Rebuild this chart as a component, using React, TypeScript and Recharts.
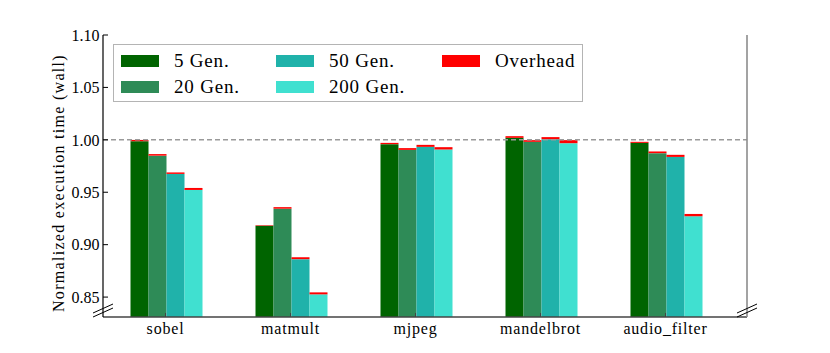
import { BarChart, Bar, XAxis, YAxis, ReferenceLine, Legend } from "recharts";

const categories = ["sobel", "matmult", "mjpeg", "mandelbrot", "audio_filter"];

// normalized wall time per generation count (without overhead)
const gen5 = [0.9987, 0.918, 0.9959, 1.0019, 0.9971];
const gen20 = [0.9849, 0.9343, 0.9904, 0.9981, 0.9873];
const gen50 = [0.9675, 0.8862, 0.9933, 1.0006, 0.9837];
const gen200 = [0.9522, 0.8526, 0.9908, 0.9968, 0.9271];

// overhead part stacked on top of each bar
const ovh5 = [0.0012, 0.0005, 0.0012, 0.0016, 0.001];
const ovh20 = [0.0015, 0.0015, 0.0017, 0.0016, 0.0016];
const ovh50 = [0.0014, 0.0018, 0.0019, 0.002, 0.002];
const ovh200 = [0.0019, 0.0019, 0.0022, 0.0029, 0.0022];

const seriesNames = ["5 Gen.", "20 Gen.", "50 Gen.", "200 Gen."];
const seriesKeys = ["g5", "g20", "g50", "g200"];
const seriesColors = ["#006400", "#2e8b57", "#20b2aa", "#40e0d0"];
const overheadName = "Overhead";
const overheadColor = "#ff0000";

const yTicks = [0.85, 0.9, 0.95, 1.0, 1.05, 1.1];
const yDomain = [0.831, 1.1];

const data = categories.map((name, i) => ({
  name,
  g5: gen5[i],
  o5: ovh5[i],
  g20: gen20[i],
  o20: ovh20[i],
  g50: gen50[i],
  o50: ovh50[i],
  g200: gen200[i],
  o200: ovh200[i],
}));

const FONT = "'Liberation Serif', 'DejaVu Serif', serif";

function LegendBox() {
  // column-major like matplotlib's ncol=3 legend
  const items = [
    { label: seriesNames[0], color: seriesColors[0] },
    { label: seriesNames[1], color: seriesColors[1] },
    { label: seriesNames[2], color: seriesColors[2] },
    { label: seriesNames[3], color: seriesColors[3] },
    { label: overheadName, color: overheadColor },
  ];
  const colX = [7, 162, 328];
  const rowY = [10, 36];
  return (
    <div
      style={{
        width: 470,
        height: 58,
        boxSizing: "border-box",
        border: "1px solid #b4b4b4",
        background: "#fff",
        position: "relative",
        fontFamily: FONT,
        fontSize: 19,
        letterSpacing: 0.8,
        color: "#000",
      }}
    >
      {items.map((it, i) => (
        <div
          key={it.label}
          style={{
            position: "absolute",
            left: colX[Math.floor(i / 2)],
            top: rowY[i % 2] - 5,
            height: 22,
            display: "flex",
            alignItems: "center",
            whiteSpace: "nowrap",
          }}
        >
          <span style={{ display: "inline-block", width: 38, height: 12, background: it.color, marginRight: 15 }} />
          <span>{it.label}</span>
        </div>
      ))}
    </div>
  );
}

export default function App() {
  return (
    <div style={{ position: "absolute", left: 0, top: 0, width: 830, height: 353, background: "#fff" }}>
      <BarChart
        width={830}
        height={353}
        data={data}
        margin={{ top: 35, right: 33, left: 53, bottom: 6 }}
        barCategoryGap={27.5}
        barGap={0}
        style={{ fontFamily: FONT }}
      >
        <XAxis
          dataKey="name"
          height={30}
          padding={{ left: 0, right: 19 }}
          axisLine={{ stroke: "#444", strokeWidth: 1.5 }}
          tickLine={{ stroke: "#444" }}
          tickSize={-4}
          tickMargin={10}
          tick={{ fill: "#000", fontSize: 16, letterSpacing: 0.8, fontFamily: FONT }}
          interval={0}
        />
        <XAxis
          xAxisId="top"
          dataKey="name"
          orientation="top"
          height={0}
          padding={{ left: 0, right: 19 }}
          axisLine={{ stroke: "#000", strokeWidth: 1.2 }}
          tickLine={{ stroke: "#000" }}
          tickSize={-4}
          tick={false}
        />
        <YAxis
          width={50}
          type="number"
          domain={yDomain}
          ticks={yTicks}
          allowDataOverflow
          axisLine={{ stroke: "#000", strokeWidth: 1.2 }}
          tickLine={{ stroke: "#000" }}
          tickSize={-5}
          tickMargin={8.5}
          tick={{ fill: "#000", fontSize: 16, fontFamily: FONT }}
          tickFormatter={(v: number) => v.toFixed(2)}
          label={(props: any) => {
            const vb = props.viewBox || { x: 53, y: 35, width: 50, height: 282 };
            const cx = 63.5;
            const cy = vb.y + vb.height / 2 + 7;
            return (
              <text
                x={cx}
                y={cy}
                transform={`rotate(-90 ${cx} ${cy})`}
                textAnchor="middle"
                fontSize={16}
                letterSpacing={1.3}
                fill="#000"
                fontFamily={FONT}
              >
                Normalized execution time (wall)
              </text>
            );
          }}
        />
        <YAxis
          yAxisId="right"
          orientation="right"
          width={50}
          type="number"
          domain={yDomain}
          ticks={yTicks}
          allowDataOverflow
          axisLine={{ stroke: "#8c8c8c", strokeWidth: 1.6 }}
          tickLine={{ stroke: "#8c8c8c" }}
          tickSize={-5}
          tick={false}
        />
        <ReferenceLine y={1.0} stroke="#9a9a9a" strokeWidth={1.5} strokeDasharray="5 3" />
        {seriesKeys.map((k, i) => [
          <Bar key={k} dataKey={k} stackId={k} fill={seriesColors[i]} name={seriesNames[i]} isAnimationActive={false} />,
          <Bar
            key={"o" + k}
            dataKey={"o" + k.slice(1)}
            stackId={k}
            fill={overheadColor}
            name={overheadName}
            isAnimationActive={false}
          />,
        ])}
        <Legend
          layout="vertical"
          align="center"
          verticalAlign="middle"
          wrapperStyle={{ left: 113, top: 44, width: 470, height: 58 }}
          content={() => <LegendBox />}
        />
      </BarChart>
      <svg
        width={830}
        height={353}
        style={{ position: "absolute", left: 0, top: 0, pointerEvents: "none" }}
      >
        {/* axis break marks */}
        <line x1={93} y1={313} x2={113} y2={304} stroke="#000" strokeWidth={1} />
        <line x1={93} y1={317} x2={113} y2={308} stroke="#000" strokeWidth={1} />
        <line x1={737} y1={313} x2={757} y2={304} stroke="#000" strokeWidth={1} />
        <line x1={737} y1={317} x2={757} y2={308} stroke="#000" strokeWidth={1} />
      </svg>
    </div>
  );
}
